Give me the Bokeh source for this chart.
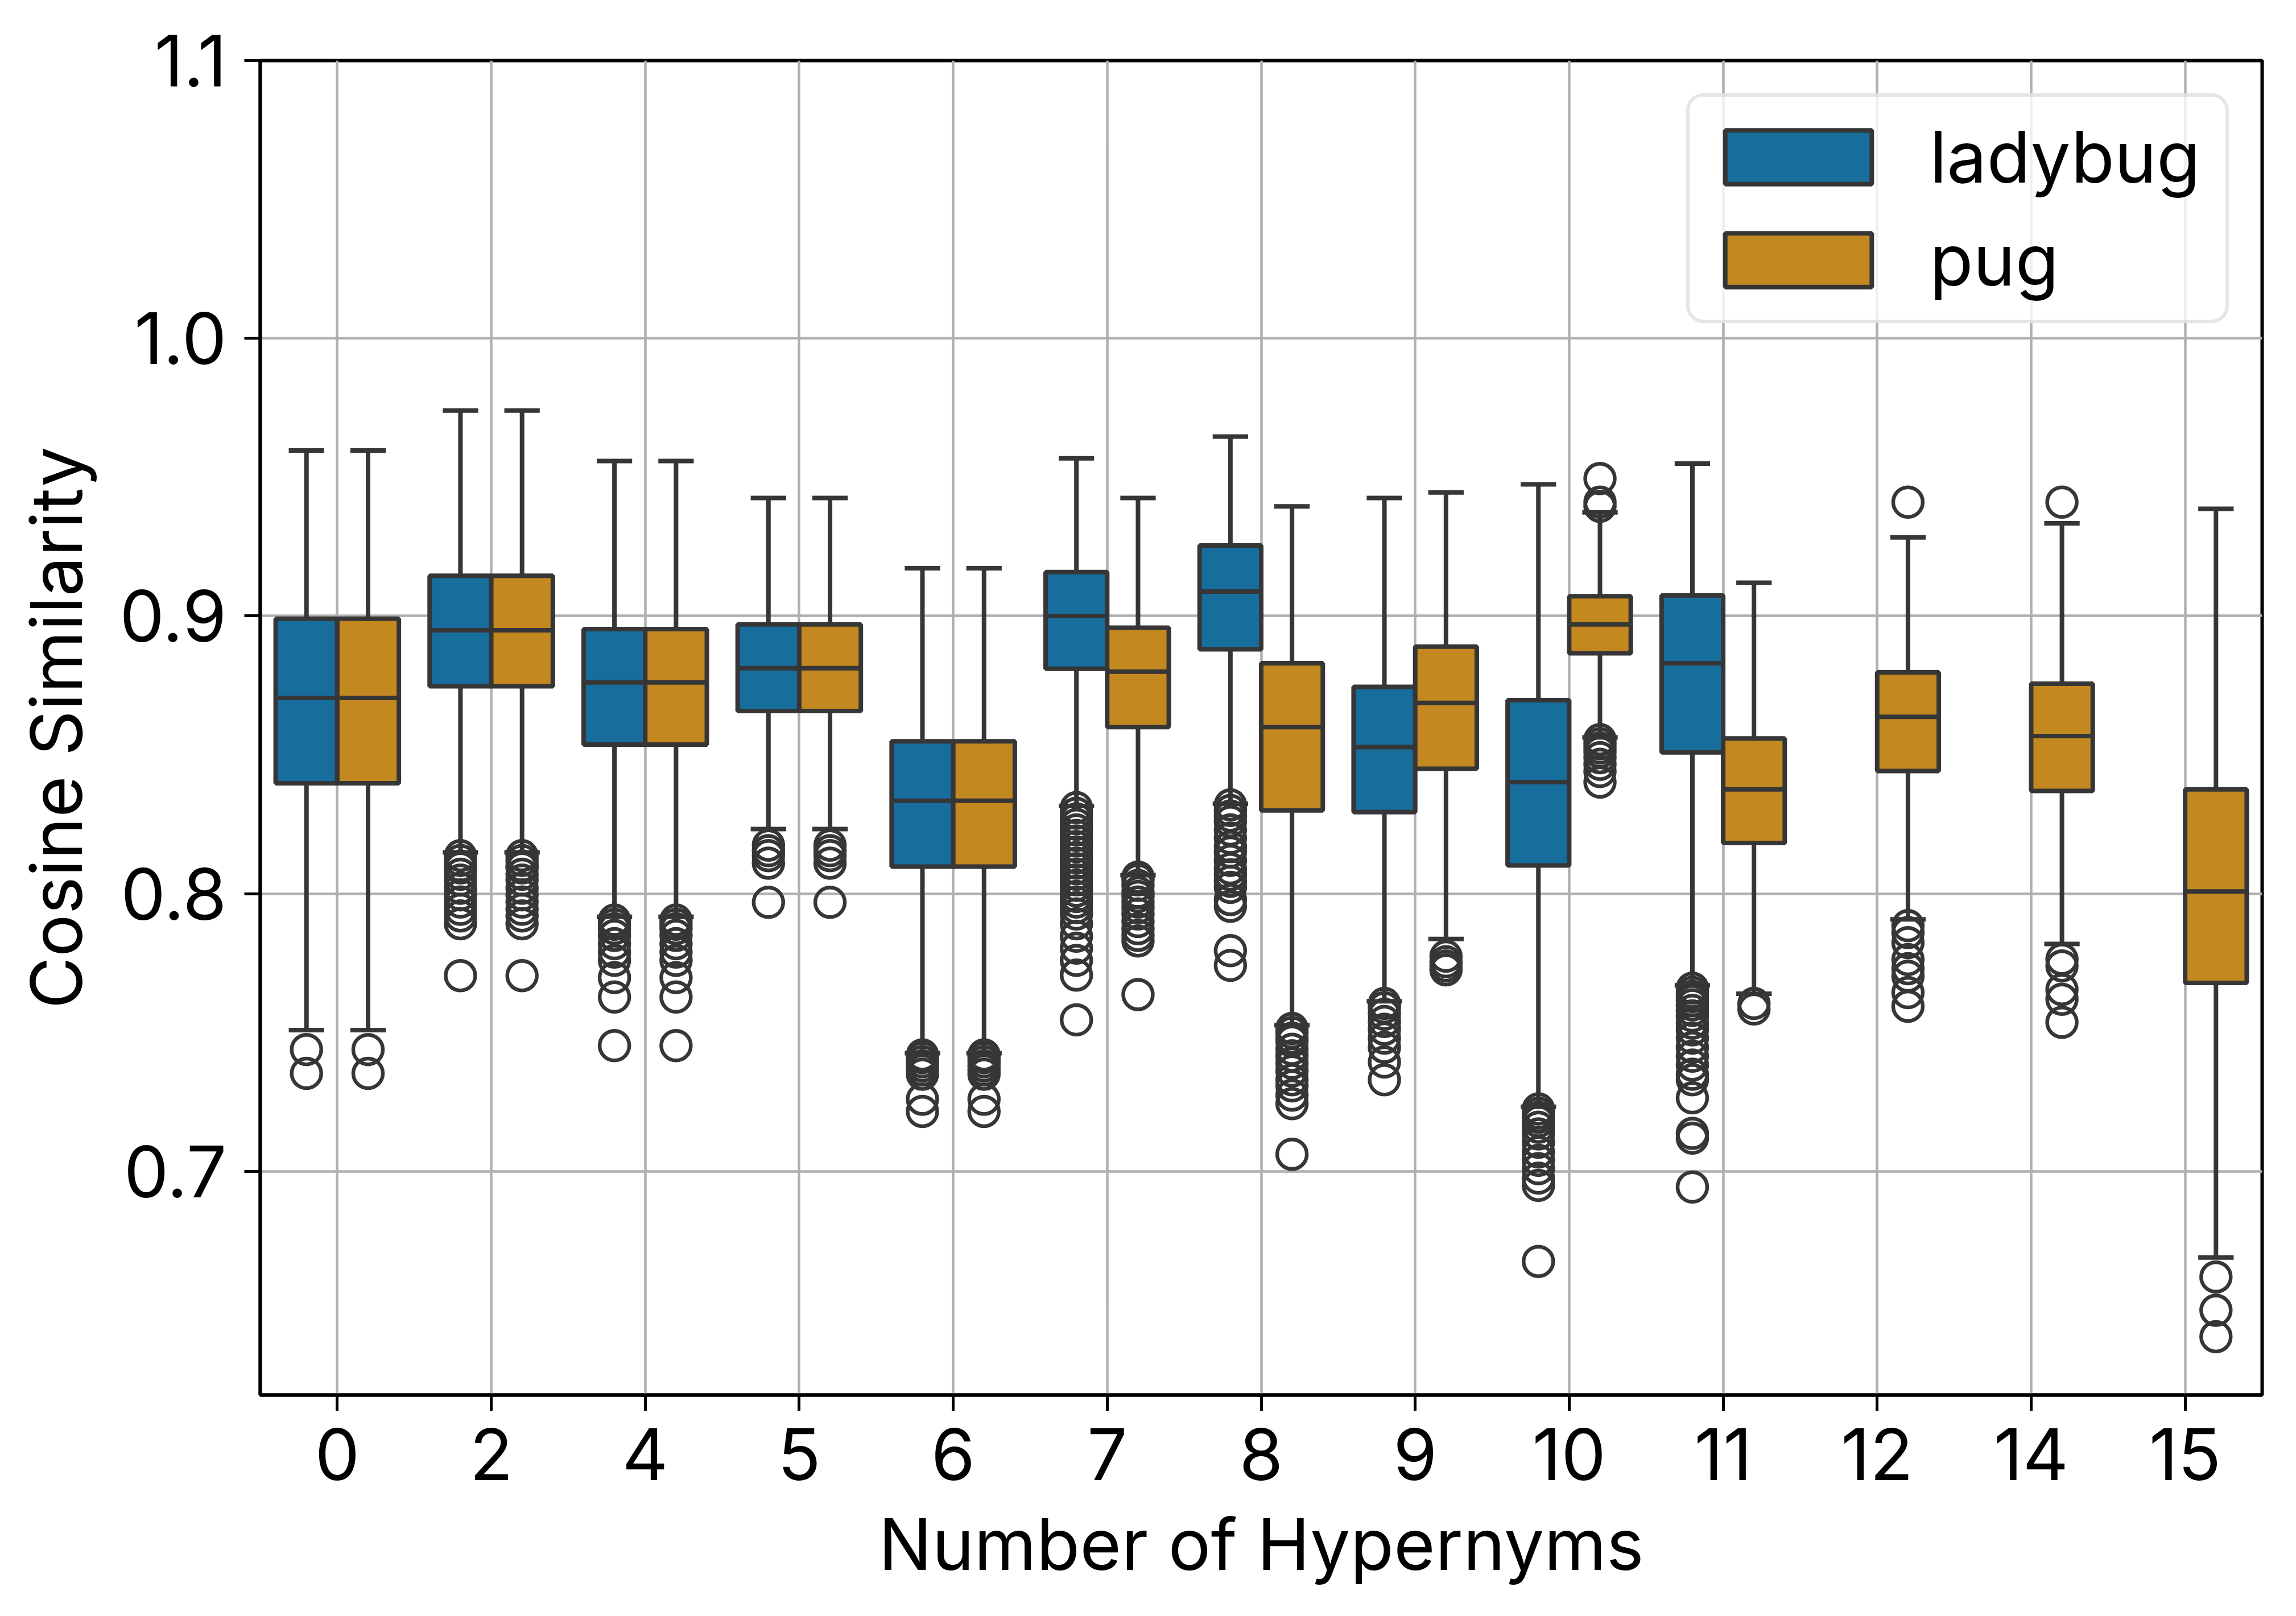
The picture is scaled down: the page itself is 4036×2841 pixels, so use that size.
from bokeh.plotting import figure
from bokeh.models import (ColumnDataSource, FixedTicker, Legend, LegendItem,
                          PrintfTickFormatter, Range1d)
from bokeh.embed import file_html
from bokeh.resources import INLINE

# ---------------- data ----------------
categories = ["0", "2", "4", "5", "6", "7", "8", "9", "10", "11", "12", "14", "15"]
hue_names = ["ladybug", "pug"]
y_ticks = [0.7, 0.8, 0.9, 1.0, 1.1]

ladybug_q1 = [0.8398, 0.8747, 0.8537, 0.8658, 0.8098, 0.881, 0.888, 0.8294, 0.8102, 0.8509, None, None, None]
ladybug_med = [0.8705, 0.8949, 0.8761, 0.8812, 0.8335, 0.900, 0.9088, 0.8528, 0.8402, 0.883, None, None, None]
ladybug_q3 = [0.899, 0.9145, 0.8953, 0.897, 0.8549, 0.9158, 0.9254, 0.8745, 0.8697, 0.9074, None, None, None]
ladybug_lo = [0.7509, 0.8149, 0.7917, 0.8233, 0.7426, 0.8316, 0.8324, 0.7613, 0.7233, 0.767, None, None, None]
ladybug_hi = [0.9596, 0.974, 0.9558, 0.9425, 0.9172, 0.9568, 0.9646, 0.9425, 0.9474, 0.9549, None, None, None]

pug_q1 = [0.8398, 0.8747, 0.8537, 0.8658, 0.8098, 0.860, 0.830, 0.845, 0.8866, 0.8183, 0.8442, 0.837, 0.7679]
pug_med = [0.8705, 0.8949, 0.8761, 0.8812, 0.8335, 0.880, 0.860, 0.8687, 0.897, 0.8376, 0.8637, 0.8568, 0.8008]
pug_q3 = [0.899, 0.9145, 0.8953, 0.897, 0.8549, 0.8958, 0.883, 0.889, 0.9071, 0.8559, 0.8797, 0.8756, 0.8376]
pug_lo = [0.7509, 0.8149, 0.7917, 0.8233, 0.7426, 0.8067, 0.7527, 0.7837, 0.8563, 0.764, 0.7908, 0.7819, 0.669]
pug_hi = [0.9596, 0.974, 0.9558, 0.9425, 0.9172, 0.9425, 0.9395, 0.9445, 0.9373, 0.912, 0.9283, 0.9334, 0.9386]

ladybug_outliers = [
    [0.7439, 0.7353],
    [0.8137, 0.812, 0.810, 0.8093, 0.807, 0.8049, 0.802, 0.7996, 0.797, 0.7944, 0.792, 0.7892, 0.7705],
    [0.7905, 0.789, 0.7874, 0.785, 0.782, 0.779, 0.776, 0.7698, 0.7628, 0.7453],
    [0.8175, 0.8155, 0.8137, 0.811, 0.7969],
    [0.742, 0.741, 0.7395, 0.738, 0.7365, 0.735, 0.726, 0.7216],
    [0.831, 0.829, 0.827, 0.825, 0.823, 0.821, 0.819, 0.817, 0.815, 0.813, 0.811, 0.809, 0.807,
     0.805, 0.803, 0.801, 0.799, 0.797, 0.795, 0.7927, 0.7892, 0.7847, 0.7804, 0.776, 0.7707, 0.7546],
    [0.832, 0.830, 0.828, 0.826, 0.823, 0.820, 0.817, 0.815, 0.812, 0.809, 0.8068, 0.8045, 0.8023,
     0.7979, 0.7955, 0.7795, 0.7742],
    [0.7605, 0.759, 0.7566, 0.754, 0.7512, 0.748, 0.7447, 0.7394, 0.733],
    [0.7225, 0.721, 0.7195, 0.718, 0.7159, 0.7135, 0.7105, 0.707, 0.704, 0.701, 0.6976, 0.695, 0.6676],
    [0.766, 0.7645, 0.763, 0.7615, 0.760, 0.758, 0.756, 0.7534, 0.751, 0.748, 0.7447, 0.7415, 0.7383,
     0.735, 0.733, 0.7265, 0.7137, 0.712, 0.6944],
    [], [], [],
]
pug_outliers = [
    [0.7439, 0.7353],
    [0.8137, 0.812, 0.810, 0.8093, 0.807, 0.8049, 0.802, 0.7996, 0.797, 0.7944, 0.792, 0.7892, 0.7705],
    [0.7905, 0.789, 0.7874, 0.785, 0.782, 0.779, 0.776, 0.7698, 0.7628, 0.7453],
    [0.8175, 0.8155, 0.8137, 0.811, 0.7969],
    [0.742, 0.741, 0.7395, 0.738, 0.7365, 0.735, 0.726, 0.7216],
    [0.806, 0.805, 0.803, 0.8005, 0.799, 0.797, 0.795, 0.7927, 0.790, 0.7874, 0.785, 0.783, 0.7637],
    [0.7515, 0.750, 0.748, 0.7469, 0.744, 0.7416, 0.739, 0.7362, 0.733, 0.7308, 0.7275, 0.7244, 0.7062],
    [0.7775, 0.7755, 0.774, 0.7726],
    [0.9495, 0.941, 0.9395, 0.8555, 0.854, 0.8525, 0.851, 0.849, 0.8466, 0.844, 0.8402],
    [0.7605, 0.7585],
    [0.941, 0.7885, 0.786, 0.7824, 0.7763, 0.773, 0.7703, 0.7644, 0.7595],
    [0.941, 0.7764, 0.774, 0.7655, 0.762, 0.7537],
    [0.662, 0.650, 0.6405],
]

# ---------------- style ----------------
FONT = "Inter"
FS = "125px"
EDGE = "#363636"
COLORS = {"ladybug": "#176d9c", "pug": "#c38820"}
OFFSETS = {"ladybug": -0.2, "pug": 0.2}
BOX_W = 0.4
CAP_HALF = 0.115
LW = 8

p = figure(width=4020, height=2825,
           x_range=Range1d(-0.5, 12.5), y_range=Range1d(0.6195, 1.1),
           output_backend="svg", toolbar_location=None,
           min_border_left=457, min_border_right=44,
           min_border_top=106, min_border_bottom=373)
p.background_fill_color = "white"
p.border_fill_color = "white"
p.outline_line_color = "black"
p.outline_line_width = 6

stats = {
    "ladybug": (ladybug_q1, ladybug_med, ladybug_q3, ladybug_lo, ladybug_hi, ladybug_outliers),
    "pug": (pug_q1, pug_med, pug_q3, pug_lo, pug_hi, pug_outliers),
}

legend_items = []
for name in hue_names:
    q1, med, q3, lo, hi, outs = stats[name]
    off = OFFSETS[name]
    idx = [i for i, v in enumerate(med) if v is not None]
    x = [i + off for i in idx]
    src = ColumnDataSource(dict(
        x=x,
        left=[v - BOX_W / 2 for v in x],
        right=[v + BOX_W / 2 for v in x],
        capl=[v - CAP_HALF for v in x],
        capr=[v + CAP_HALF for v in x],
        q1=[q1[i] for i in idx], med=[med[i] for i in idx], q3=[q3[i] for i in idx],
        lo=[lo[i] for i in idx], hi=[hi[i] for i in idx],
    ))
    # whiskers
    p.segment(x0="x", x1="x", y0="q1", y1="lo", source=src, line_color=EDGE, line_width=LW)
    p.segment(x0="x", x1="x", y0="q3", y1="hi", source=src, line_color=EDGE, line_width=LW)
    # caps
    p.segment(x0="capl", x1="capr", y0="lo", y1="lo", source=src, line_color=EDGE, line_width=LW)
    p.segment(x0="capl", x1="capr", y0="hi", y1="hi", source=src, line_color=EDGE, line_width=LW)
    # boxes
    r = p.vbar(x="x", width=BOX_W, bottom="q1", top="q3", source=src,
               fill_color=COLORS[name], line_color=EDGE, line_width=LW)
    # medians
    p.segment(x0="left", x1="right", y0="med", y1="med", source=src, line_color=EDGE, line_width=LW)
    # fliers
    fx, fy = [], []
    for i, vals in enumerate(outs):
        for v in vals:
            fx.append(i + off)
            fy.append(v)
    p.scatter(x=fx, y=fy, marker="circle", size=52, fill_color=None,
              line_color=EDGE, line_width=6.5)
    legend_items.append(LegendItem(label=name, renderers=[r]))

# ---------------- axes ----------------
p.xaxis.ticker = FixedTicker(ticks=list(range(len(categories))))
p.xaxis.major_label_overrides = {i: c for i, c in enumerate(categories)}
p.yaxis.ticker = FixedTicker(ticks=y_ticks)
p.yaxis.formatter = PrintfTickFormatter(format="%.1f")
p.xaxis.axis_label = "Number of Hypernyms"
p.yaxis.axis_label = "Cosine Similarity"

for ax in (p.xaxis[0], p.yaxis[0]):
    ax.axis_line_color = "black"
    ax.axis_line_width = 6
    ax.major_tick_line_color = "black"
    ax.major_tick_line_width = 5
    ax.major_tick_out = 28
    ax.major_tick_in = 0
    ax.minor_tick_line_color = None
    ax.major_label_text_font = FONT
    ax.major_label_text_font_size = FS
    ax.major_label_text_color = "black"
    ax.axis_label_text_font = FONT
    ax.axis_label_text_font_size = FS
    ax.axis_label_text_font_style = "normal"
    ax.axis_label_text_color = "black"

p.yaxis.major_label_standoff = 31
p.yaxis.axis_label_standoff = 33
p.xaxis.major_label_standoff = 30
p.xaxis.axis_label_standoff = 34

p.xgrid.ticker = FixedTicker(ticks=list(range(len(categories))))
p.ygrid.ticker = FixedTicker(ticks=y_ticks)
for g in (p.xgrid[0], p.ygrid[0]):
    g.grid_line_color = "#b0b0b0"
    g.grid_line_width = 4.5

# ---------------- legend ----------------
# Bokeh insets area glyphs by 10% on each side, so the glyph box is enlarged accordingly
legend = Legend(items=legend_items, location="top_right", margin=58,
                glyph_width=322, glyph_height=118, label_standoff=70,
                label_width=490, padding=30, spacing=30,
                label_text_font=FONT, label_text_font_size=FS, label_text_color="black",
                border_line_color="#cccccc", border_line_width=6,
                background_fill_color="white", background_fill_alpha=0.8)
try:
    legend.border_radius = 30
except Exception:
    pass
p.add_layout(legend)

open("out.html", "w").write(file_html(p, INLINE))
